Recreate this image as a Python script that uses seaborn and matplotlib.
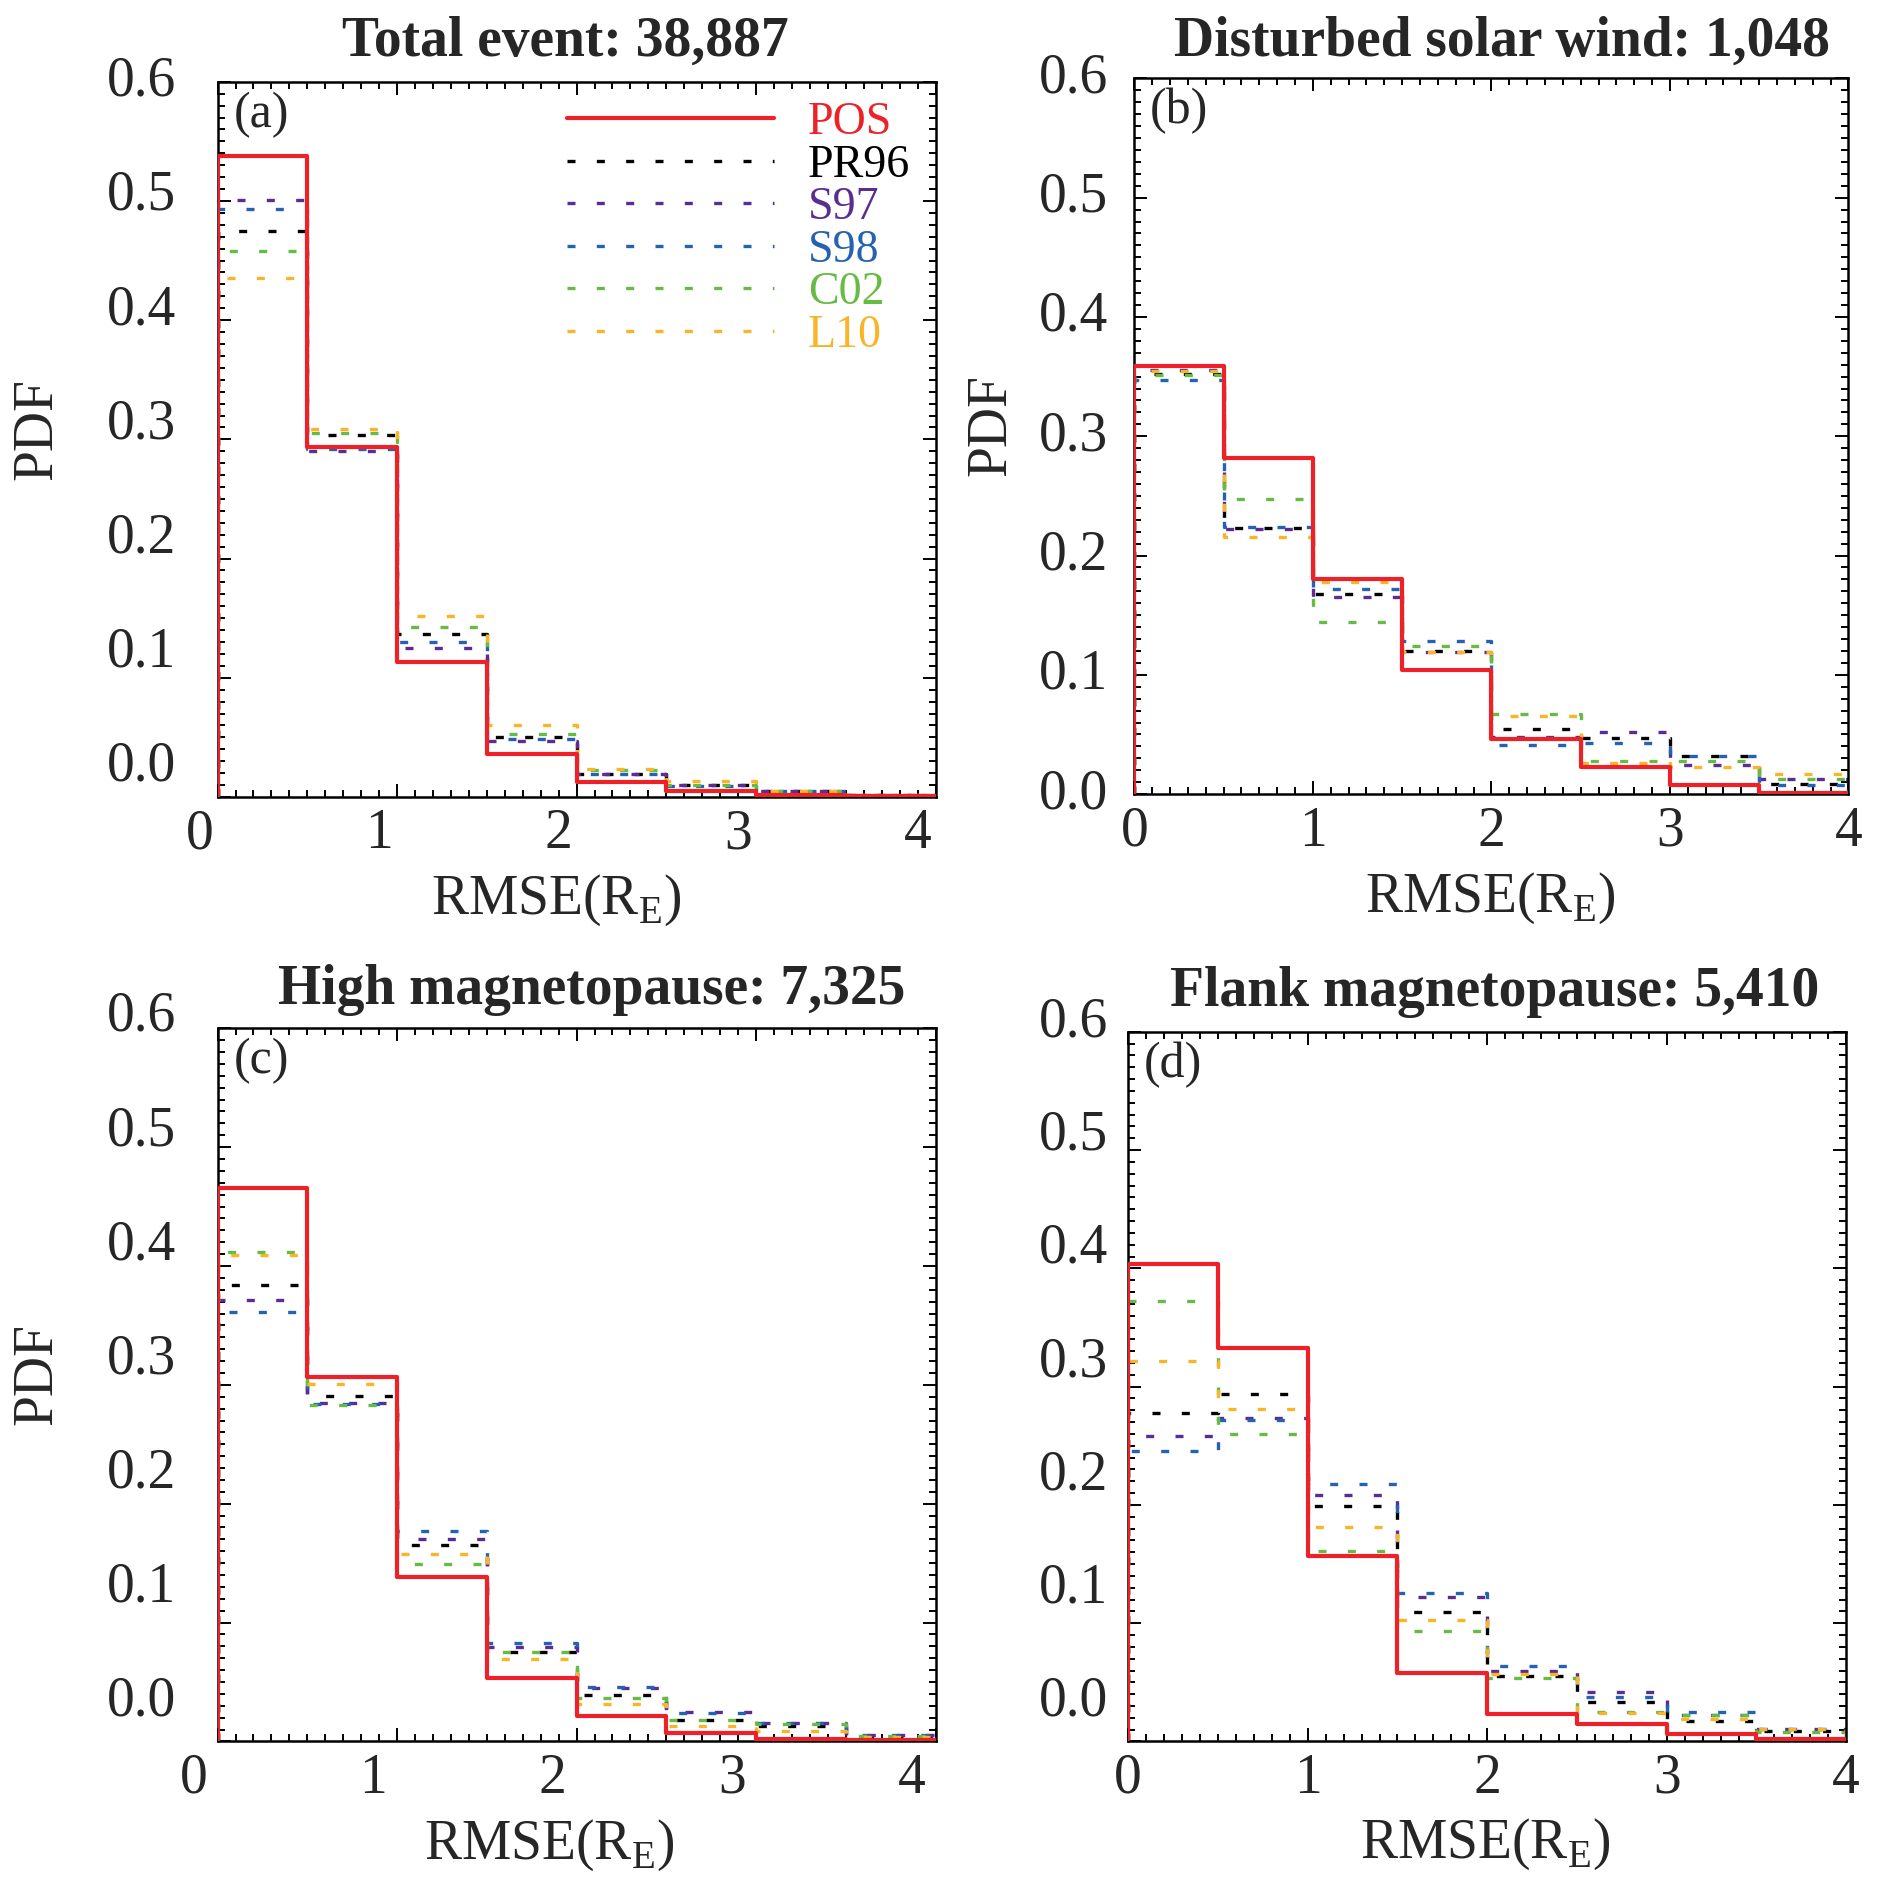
import numpy as np
import pandas as pd
import matplotlib
matplotlib.use("Agg")
import matplotlib.pyplot as plt
from matplotlib.ticker import MultipleLocator
from matplotlib.transforms import ScaledTranslation
import seaborn as sns

# =============================================================================
# Data: PDF of RMSE per 0.5 R_E bin, four event groups (a)-(d)
# =============================================================================
bin_edges = [0.0, 0.5, 1.0, 1.5, 2.0, 2.5, 3.0, 3.5, 4.0]
models = ["POS", "PR96", "S97", "S98", "C02", "L10"]
panel_titles = ["Total event: 38,887", "Disturbed solar wind: 1,048",
                "High magnetopause: 7,325", "Flank magnetopause: 5,410"]
panel_tags = ["(a)", "(b)", "(c)", "(d)"]
y_ticks = [0.0, 0.1, 0.2, 0.3, 0.4, 0.5, 0.6]
x_ticks = [0, 1, 2, 3, 4]

# one row per panel (a, b, c, d), one value per bin
POS = [[0.538, 0.294, 0.1135, 0.0358, 0.0125, 0.0047, 0.002, 0.0005],
       [0.359, 0.282, 0.1806, 0.104, 0.0458, 0.023, 0.0078, 0.001],
       [0.4656, 0.307, 0.138, 0.0538, 0.0213, 0.0072, 0.0017, 0.001],
       [0.404, 0.3327, 0.1568, 0.0577, 0.0234, 0.0144, 0.0066, 0.0024]]
PR96 = [[0.4745, 0.3033, 0.1367, 0.05, 0.019, 0.0097, 0.005, 0.002],
        [0.352, 0.223, 0.168, 0.1198, 0.0542, 0.0467, 0.032, 0.0085],
        [0.384, 0.291, 0.165, 0.0752, 0.0389, 0.0178, 0.0131, 0.005],
        [0.2775, 0.294, 0.1994, 0.1096, 0.055, 0.033, 0.0174, 0.009]]
S97 = [[0.501, 0.2903, 0.1247, 0.047, 0.0195, 0.0097, 0.005, 0.002],
       [0.3556, 0.222, 0.1648, 0.119, 0.048, 0.0517, 0.0245, 0.013],
       [0.371, 0.285, 0.170, 0.0796, 0.0446, 0.0248, 0.0159, 0.0053],
       [0.258, 0.2733, 0.2087, 0.1225, 0.0592, 0.042, 0.0225, 0.0105]]
S98 = [[0.493, 0.2917, 0.1297, 0.0483, 0.0195, 0.0095, 0.005, 0.002],
       [0.347, 0.224, 0.172, 0.1287, 0.041, 0.0425, 0.0322, 0.008],
       [0.361, 0.2838, 0.1768, 0.0831, 0.0455, 0.0242, 0.0159, 0.0053],
       [0.2453, 0.2718, 0.2177, 0.1255, 0.0637, 0.0375, 0.0246, 0.0105]]
C02 = [[0.458, 0.3056, 0.1428, 0.0528, 0.0223, 0.0097, 0.005, 0.002],
       [0.351, 0.2475, 0.1445, 0.1245, 0.067, 0.0278, 0.028, 0.0125],
       [0.412, 0.2828, 0.149, 0.0752, 0.0363, 0.0178, 0.015, 0.005],
       [0.372, 0.2598, 0.1607, 0.0934, 0.0535, 0.025, 0.0225, 0.008]]
L10 = [[0.435, 0.309, 0.1517, 0.0603, 0.0237, 0.013, 0.005, 0.002],
       [0.355, 0.2153, 0.178, 0.1195, 0.0653, 0.0258, 0.023, 0.0167],
       [0.409, 0.301, 0.158, 0.069, 0.0315, 0.0134, 0.0086, 0.004],
       [0.322, 0.2814, 0.1814, 0.103, 0.057, 0.024, 0.019, 0.0105]]

# long table for seaborn (bin centre + weight)
centres = [(lo + hi) / 2 for lo, hi in zip(bin_edges[:-1], bin_edges[1:])]
rows = []
for name, table in zip(models, [POS, PR96, S97, S98, C02, L10]):
    for p, vals in enumerate(table):
        for c, v in zip(centres, vals):
            rows.append({"panel": p, "model": name, "rmse": c, "pdf": v})
df = pd.DataFrame(rows)

# -----------------------------
# Style
# -----------------------------
sns.set_theme(style="ticks")
plt.rcParams["font.family"] = ["Liberation Serif", "DejaVu Serif"]
plt.rcParams["mathtext.fontset"] = "custom"
plt.rcParams["mathtext.rm"] = "Liberation Serif"

colors = {"POS": "#ED2127", "PR96": "#000000", "S97": "#5C2D91",
          "S98": "#2662B2", "C02": "#66BB44", "L10": "#FAB428"}
dash = (0, (2.4, 6.4))
FS = 40

# axes boxes and the (slightly misregistered) tick-label placement of each panel
boxes = [[0.115, 0.581, 0.3795, 0.376], [0.5995, 0.5825, 0.3775, 0.3763],
         [0.115, 0.0844, 0.3795, 0.375], [0.5963, 0.0844, 0.3795, 0.3731]]
ylab_map = [(0.0253, 0.958), (0.0, 1.0), (0.0335, 0.96), (0.0337, 0.957)]
xlab_shift = [-0.1, 0.0, -0.135, 0.0]
ylab_gap = [30, 19, 30, 14.6]
title_xy = [(0.484, 1.056), (0.515, 1.051), (0.521, 1.054), (0.511, 1.056)]
xlabel_x = [0.472, 0.498, 0.462, 0.497]
ylabel_x = [-0.215, -0.164, -0.215, None]

fig = plt.figure(figsize=(18.92, 19.02), dpi=100)

for p in range(4):
    ax = fig.add_axes(boxes[p])
    sub = df[df["panel"] == p]
    handles = {}
    for name in models[1:] + models[:1]:
        d = sub[sub["model"] == name]
        sns.histplot(data=d, x="rmse", weights="pdf", bins=bin_edges,
                     element="step", fill=False, ax=ax, color=colors[name],
                     linewidth=3.0 if name == "POS" else 2.4,
                     linestyle="-" if name == "POS" else dash,
                     zorder=3 if name == "POS" else 2)
        line = ax.lines[-1]
        x, y = line.get_data()
        # close the outline down to the baseline at both ends
        line.set_data(np.r_[x[0], x, x[-1]], np.r_[0, y, 0])
        line.set_label(name)
        handles[name] = line

    ax.set_xlim(0, 4)
    ax.set_ylim(0, 0.6)
    ax.xaxis.set_major_locator(MultipleLocator(1))
    ax.xaxis.set_minor_locator(MultipleLocator(0.1))
    ax.yaxis.set_major_locator(MultipleLocator(0.1))
    ax.yaxis.set_minor_locator(MultipleLocator(0.01))
    ax.tick_params(which="both", direction="in", top=True, right=True,
                   labelleft=False, labelbottom=False, width=1.4, color="black")
    ax.tick_params(which="major", length=9.5)
    ax.tick_params(which="minor", length=5)
    for s in ax.spines.values():
        s.set_linewidth(1.8)
        s.set_color("black")
    ax.set_xlabel("")
    ax.set_ylabel("")

    # tick labels, drawn where the original figure put them
    a0, a1 = ylab_map[p]
    ytr = ax.get_yaxis_transform() + ScaledTranslation(-ylab_gap[p] / 72, 0, fig.dpi_scale_trans)
    for v in y_ticks:
        ax.text(0, a0 + a1 * v, f"{v:.1f}", transform=ytr, ha="right",
                va="center", fontsize=FS, clip_on=False)
    xtr = ax.get_xaxis_transform() + ScaledTranslation(0, -27 / 72, fig.dpi_scale_trans)
    for v in x_ticks:
        ax.text(v + xlab_shift[p], 0, f"{v}", transform=xtr, ha="center",
                va="center", fontsize=FS, clip_on=False)

    ax.text(*title_xy[p], panel_titles[p], transform=ax.transAxes, ha="center",
            va="center", fontsize=FS, fontweight="bold")
    ax.text(0.022, 0.954, panel_tags[p], transform=ax.transAxes, ha="left",
            va="center", fontsize=36)
    ax.text(xlabel_x[p], -0.145, r"RMSE(R$_{\mathrm{E}}$)", transform=ax.transAxes,
            ha="center", va="center", fontsize=FS)
    if ylabel_x[p] is not None:
        ax.text(ylabel_x[p], 0.515, "PDF", transform=ax.transAxes, ha="right",
                va="center", rotation=90, fontsize=FS)

    if p == 0:
        ax.legend([handles[m] for m in models], models, loc="upper left",
                  bbox_to_anchor=(0.487, 0.972), frameon=False, fontsize=33,
                  handlelength=4.5, handletextpad=0.75, labelspacing=0.0,
                  borderpad=0, borderaxespad=0, labelcolor="linecolor")

fig.savefig("out.png", dpi=100)
